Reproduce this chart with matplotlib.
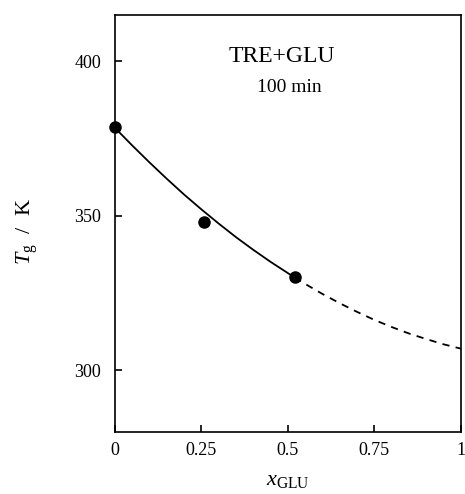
"""
Tg of TRE+GLU mixture vs x_GLU (100 min)
"""

import matplotlib.pyplot as plt

plt.rcParams['font.family'] = ['Liberation Serif', 'DejaVu Serif']
plt.rcParams['mathtext.fontset'] = 'custom'
plt.rcParams['mathtext.rm'] = 'Liberation Serif'
plt.rcParams['mathtext.it'] = 'Liberation Serif:italic'

# measured points
x_pts = [0.0, 0.258, 0.52]
tg_pts = [378.8, 348.0, 330.2]

# fitted curve (solid part: measured range, dashed: extrapolation)
x_fit = [0.0, 0.05, 0.1, 0.15, 0.2, 0.25, 0.3, 0.35, 0.4, 0.45, 0.52]
tg_fit = [378.5, 372.8, 367.3, 362.0, 356.9, 352.1, 347.5, 343.1, 339.0, 335.1, 330.0]
x_ext = [0.52, 0.56, 0.6, 0.65, 0.7, 0.75, 0.8, 0.85, 0.9, 0.95, 1.0]
tg_ext = [330.0, 327.3, 324.7, 321.7, 318.9, 316.3, 314.0, 311.9, 310.1, 308.4, 307.0]

xticks = [0, 0.25, 0.5, 0.75, 1]
xticklabels = ['0', '0.25', '0.5', '0.75', '1']
yticks = [300, 350, 400]

fig = plt.figure(figsize=(4.65, 4.94), dpi=100)
ax = fig.add_axes([0.247, 0.1255, 0.744, 0.844])

ax.plot(x_fit, tg_fit, color='black', lw=1.3)
ax.plot(x_ext, tg_ext, color='black', lw=1.3, ls=(0, (4, 3.5)))
ax.plot(x_pts, tg_pts, 'o', color='black', ms=8, clip_on=False, zorder=5)

ax.set_xlim(0, 1)
ax.set_ylim(280, 415)
ax.set_xticks(xticks)
ax.set_xticklabels(xticklabels)
ax.set_yticks(yticks)
ax.tick_params(direction='in', length=5, width=1.2, labelsize=13)
ax.tick_params(axis='x', pad=7)
ax.tick_params(axis='y', pad=10)
for s in ax.spines.values():
    s.set_linewidth(1.2)

ax.text(0.483, 401.6, 'TRE+GLU', ha='center', va='center', fontsize=17)
ax.text(0.503, 391.6, '100 min', ha='center', va='center', fontsize=14)

ax.set_xlabel(r'$x_{\mathrm{GLU}}$', fontsize=16, labelpad=9)
ax.set_ylabel(r'$T_{\mathrm{g}}$  /  K', fontsize=16)
ax.yaxis.set_label_coords(-0.216, 0.48)

fig.savefig("out.png")
